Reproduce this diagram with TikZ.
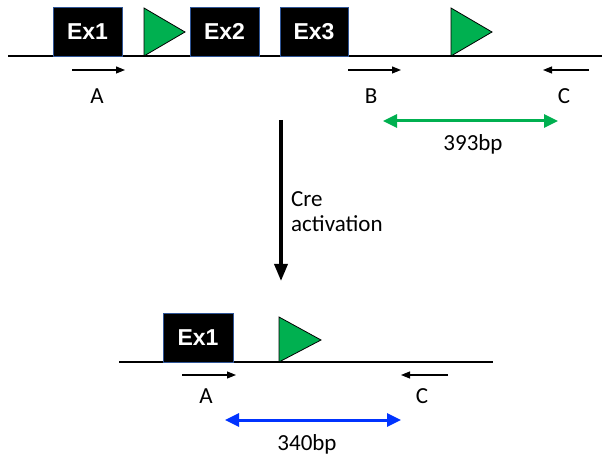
\documentclass[tikz,border=0pt]{standalone}
\usepackage{fontspec}
\setmainfont{Carlito}
\newfontfamily\exfont{Liberation Sans}
\usetikzlibrary{arrows.meta}
\definecolor{exedge}{RGB}{47,85,151}
\definecolor{loxgreen}{RGB}{0,176,80}
\definecolor{pcrblue}{RGB}{0,51,255}
\begin{document}
\begin{tikzpicture}[x=1pt,y=-1pt,
  exon/.style={draw=exedge,fill=black,line width=0.9pt,text=white,
    font=\exfont\bfseries\fontsize{23}{23}\selectfont,inner sep=0pt,
    minimum height=49pt},
  lox/.style={draw=black,fill=loxgreen,line width=0.8pt,line join=miter},
  dna/.style={line width=1.2pt},
  primer/.style={line width=1.1pt,-{Triangle[length=9pt,width=7pt]}},
  lbl/.style={font=\fontsize{23}{23}\selectfont,inner sep=0pt,anchor=base},
  prod/.style={line width=3pt,{Triangle[length=14pt,width=13pt]}-{Triangle[length=14pt,width=13pt]}},
  cre/.style={line width=3.5pt,-{Triangle[length=17pt,width=13pt]}}]
\useasboundingbox (0,0) rectangle (602,462);
% ---------- top allele ----------
\coordinate (tl) at (8,56);
\coordinate (tr) at (602,56);
\draw[dna] (tl) -- (tr);
\node[exon,minimum width=69pt] (ex1) at (87.5,31.5) {Ex1};
\node[exon,minimum width=69pt] (ex2) at (224.5,31.5) {Ex2};
\node[exon,minimum width=68pt] (ex3) at (314,31.5) {Ex3};
\draw[lox] (144,8) -- (185,32) -- (144,56) -- cycle;
\draw[lox] (451,8) -- (492,32) -- (451,56) -- cycle;
% primers
\coordinate (a1s) at (72,70);  \coordinate (a1e) at (125,70);
\coordinate (b1s) at (348,70); \coordinate (b1e) at (401,70);
\coordinate (c1s) at (589,70); \coordinate (c1e) at (543,70);
\draw[primer] (a1s) -- (a1e);
\draw[primer] (b1s) -- (b1e);
\draw[primer] (c1s) -- (c1e);
\node[lbl] (lA1) at (97,104) {A};
\node[lbl] (lB1) at (371,104) {B};
\node[lbl] (lC1) at (564,104) {C};
\coordinate (g1) at (383,121); \coordinate (g2) at (558,121);
\draw[prod,draw=loxgreen,fill=loxgreen] (g1) -- (g2);
\node[lbl] (p393) at (473,151) {393bp};
% ---------- Cre arrow ----------
\coordinate (cs) at (281,120); \coordinate (ce) at (281,281);
\draw[cre] (cs) -- (ce);
\node[lbl,anchor=base west] (cre1) at (291,207) {Cre};
\node[lbl,anchor=base west] (cre2) at (291,232) {activation};
% ---------- bottom allele ----------
\coordinate (bl) at (119,362);
\coordinate (br) at (493,362);
\draw[dna] (bl) -- (br);
\node[exon,minimum width=70pt] (bex1) at (198,337.5) {Ex1};
\draw[lox] (279,317) -- (321,340) -- (279,362) -- cycle;
\coordinate (a2s) at (182,375); \coordinate (a2e) at (236,375);
\coordinate (c2s) at (448,375); \coordinate (c2e) at (401,375);
\draw[primer] (a2s) -- (a2e);
\draw[primer] (c2s) -- (c2e);
\node[lbl] (lA2) at (206,403) {A};
\node[lbl] (lC2) at (422,403) {C};
\coordinate (u1) at (225,420); \coordinate (u2) at (401,420);
\draw[prod,draw=pcrblue,fill=pcrblue] (u1) -- (u2);
\node[lbl] (p340) at (307,450) {340bp};
\end{tikzpicture}
\end{document}
